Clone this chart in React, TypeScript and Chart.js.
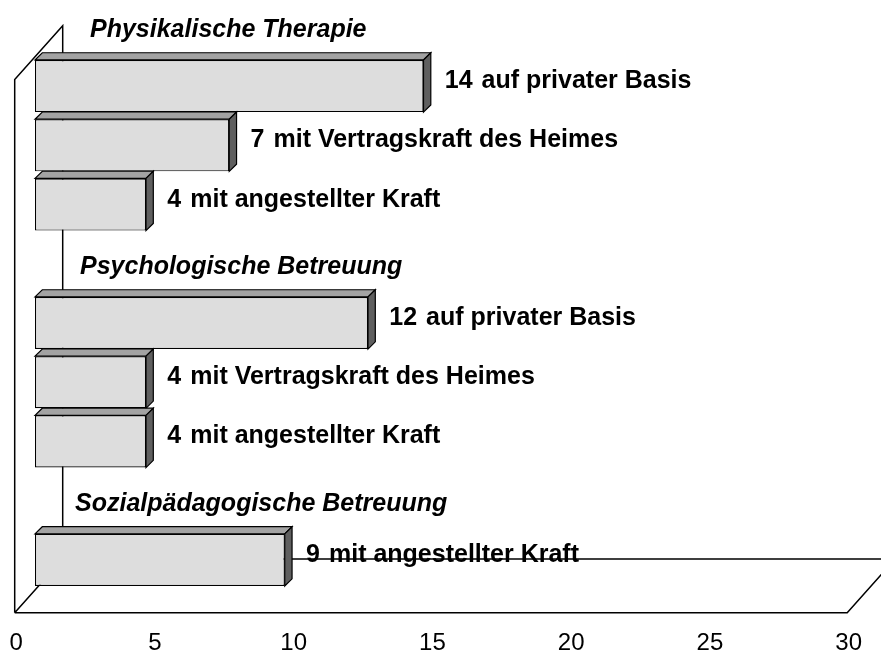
import React, { useEffect, useRef } from 'react';
import { Chart, registerables } from 'chart.js';

Chart.register(...registerables);

// ---- data ----
const categories: string[] = [
  'auf privater Basis',
  'mit Vertragskraft des Heimes',
  'mit angestellter Kraft',
  '',
  'auf privater Basis',
  'mit Vertragskraft des Heimes',
  'mit angestellter Kraft',
  '',
  'mit angestellter Kraft',
];
const values: (number | null)[] = [14, 7, 4, null, 12, 4, 4, null, 9];
const groupTitles: string[] = [
  'Physikalische Therapie',
  'Psychologische Betreuung',
  'Sozialpädagogische Betreuung',
];
const groupTitleSlots: number[] = [-1, 3, 7];
const xTicks: number[] = [0, 5, 10, 15, 20, 25, 30];

// ---- styling / geometry ----
const FONT = '"Liberation Sans", Arial, Helvetica, sans-serif';
const FRONT = { dx: -20.3, dy: 23.1 };
const BACK = { dx: 27.7, dy: -30.6 };
const DEPTH = { dx: 7.3, dy: -7.2 };
const TITLE_INDENT = [55, 45, 40];

const threeDPlugin = {
  id: 'threeD',
  beforeDatasetsDraw(chart: any) {
    const { ctx, chartArea: a, scales } = chart;
    const x = scales.x;
    const L = a.left, R = a.right, T = a.top, B = a.bottom;
    ctx.save();
    ctx.strokeStyle = '#000';
    ctx.lineWidth = 1.5;
    ctx.lineJoin = 'miter';
    ctx.beginPath();
    // left wall
    ctx.moveTo(L + FRONT.dx, B + FRONT.dy);
    ctx.lineTo(L + FRONT.dx, T + FRONT.dy);
    ctx.lineTo(L + BACK.dx, T + BACK.dy);
    ctx.lineTo(L + BACK.dx, B + BACK.dy);
    // floor
    ctx.moveTo(L + FRONT.dx, B + FRONT.dy);
    ctx.lineTo(R + FRONT.dx, B + FRONT.dy);
    ctx.lineTo(R + BACK.dx, B + BACK.dy);
    ctx.lineTo(L + BACK.dx, B + BACK.dy);
    ctx.lineTo(L + FRONT.dx, B + FRONT.dy);
    ctx.stroke();

    // tick labels on the front edge of the floor
    ctx.fillStyle = '#000';
    ctx.font = `24px ${FONT}`;
    ctx.textAlign = 'center';
    ctx.textBaseline = 'alphabetic';
    xTicks.forEach((v) => {
      const px = x.getPixelForValue(v) + FRONT.dx + 1.5;
      ctx.fillText(String(v), px, 650);
    });
    ctx.restore();
  },
  afterDatasetsDraw(chart: any) {
    const { ctx, scales } = chart;
    const y = scales.y;
    const meta = chart.getDatasetMeta(0);
    ctx.save();
    ctx.lineWidth = 1.2;
    ctx.strokeStyle = '#000';
    meta.data.forEach((el: any, i: number) => {
      const v = values[i];
      if (v === null || v === undefined) return;
      const p = el.getProps(['x', 'y', 'base', 'height'], true);
      const top = p.y - p.height / 2;
      const bottom = p.y + p.height / 2;
      const left = Math.min(p.base, p.x);
      const right = Math.max(p.base, p.x);
      // top face
      ctx.beginPath();
      ctx.moveTo(left, top);
      ctx.lineTo(left + DEPTH.dx, top + DEPTH.dy);
      ctx.lineTo(right + DEPTH.dx, top + DEPTH.dy);
      ctx.lineTo(right, top);
      ctx.closePath();
      ctx.fillStyle = '#a3a3a3';
      ctx.fill();
      ctx.stroke();
      // side face
      ctx.beginPath();
      ctx.moveTo(right, top);
      ctx.lineTo(right + DEPTH.dx, top + DEPTH.dy);
      ctx.lineTo(right + DEPTH.dx, bottom + DEPTH.dy);
      ctx.lineTo(right, bottom);
      ctx.closePath();
      ctx.fillStyle = '#5f5f5f';
      ctx.fill();
      ctx.stroke();

      // labels
      ctx.fillStyle = '#000';
      ctx.font = `bold 25px ${FONT}`;
      ctx.textAlign = 'left';
      ctx.textBaseline = 'alphabetic';
      const nx = right + DEPTH.dx + 14;
      const by = p.y + 2;
      const num = String(v);
      ctx.fillText(num, nx, by);
      const w = ctx.measureText(num).width;
      ctx.fillText(categories[i], nx + w + 9, by);
    });

    // group titles
    ctx.font = `italic bold 25px ${FONT}`;
    ctx.fillStyle = '#000';
    ctx.textAlign = 'left';
    ctx.textBaseline = 'alphabetic';
    groupTitles.forEach((t, k) => {
      const cy = y.getPixelForValue(groupTitleSlots[k]);
      ctx.fillText(t, chart.chartArea.left + TITLE_INDENT[k], cy + 10);
    });
    ctx.restore();
  },
};

export default function App() {
  const ref = useRef<HTMLCanvasElement | null>(null);
  useEffect(() => {
    document.body.style.margin = '0';
    const canvas = ref.current;
    if (!canvas) return;
    const chart = new Chart(canvas, {
      type: 'bar',
      data: {
        labels: categories,
        datasets: [
          {
            data: values as any,
            backgroundColor: '#dddddd',
            borderColor: '#000000',
            borderWidth: 1.2,
            borderSkipped: false,
            categoryPercentage: 1,
            barPercentage: 0.88,
            clip: false,
          } as any,
        ],
      },
      options: {
        indexAxis: 'y',
        responsive: false,
        animation: false,
        layout: { padding: { left: 35, right: 13.5, top: 56.4, bottom: 62.4 } },
        plugins: {
          legend: { display: false },
          tooltip: { enabled: false },
        },
        scales: {
          x: { type: 'linear', min: 0, max: 30, display: false },
          y: { type: 'category', display: false, offset: true },
        },
      },
      plugins: [threeDPlugin],
    });
    return () => chart.destroy();
  }, []);
  return (
    <div style={{ position: 'absolute', left: 0, top: 0, width: 881, height: 652, background: '#fff' }}>
      <canvas ref={ref} width={881} height={652} style={{ display: 'block' }} />
    </div>
  );
}
